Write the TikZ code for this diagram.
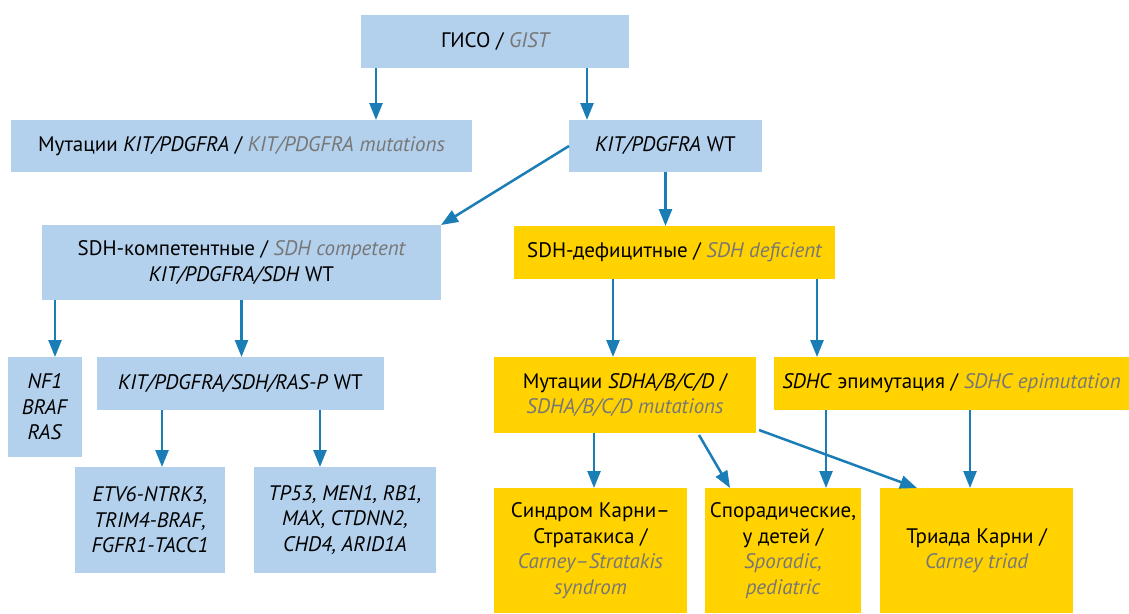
\documentclass[tikz,border=0pt]{standalone}
\usepackage{fontspec}
\setmainfont{PT Sans}
\usetikzlibrary{arrows.meta, positioning}

\definecolor{boxblue}{HTML}{B3D0EC}
\definecolor{boxyellow}{HTML}{FFD200}
\definecolor{arrowblue}{HTML}{1A7DB6}
\definecolor{engray}{HTML}{777777}
\newcommand{\eng}[1]{\textcolor{engray}{\itshape #1}}

\begin{document}
\begin{tikzpicture}[
    x=1pt, y=-1pt,
    box/.style={rectangle, anchor=north west, inner sep=0pt, outer sep=0pt, align=center, font=\fontsize{21}{25.5}\selectfont},
    bluebox/.style={box, fill=boxblue},
    yellowbox/.style={box, fill=boxyellow},
    arrow/.style={-{Triangle[length=17pt, width=13pt]}, line width=2.5pt, arrowblue}
]
\useasboundingbox (0,0) rectangle (1129,613);

% === Top: GIST and first split ===
\node[bluebox, minimum width=268pt, minimum height=53pt] (gist) at (361,15) {ГИСО / \eng{GIST}};
\node[bluebox, minimum width=461pt, minimum height=52pt] (kitmut) at (11,120) {Мутации \textit{KIT/PDGFRA} / \eng{KIT/PDGFRA mutations}};
\node[bluebox, minimum width=193pt, minimum height=52pt] (kitwt) at (569,120) {\textit{KIT/PDGFRA} WT};

% === Left: SDH competent ===
\node[bluebox, minimum width=399pt, minimum height=75pt] (sdhcomp) at (42,225) {SDH-компетентные / \eng{SDH competent}\\ \textit{KIT/PDGFRA/SDH} WT};
\node[bluebox, minimum width=74pt, minimum height=100pt] (nfbox) at (8,357) {\textit{NF1}\\ \textit{BRAF}\\ \textit{RAS}};
\node[bluebox, minimum width=287pt, minimum height=53pt] (raspwt) at (97,357) {\textit{KIT/PDGFRA/SDH/RAS-P} WT};
\node[bluebox, minimum width=150pt, minimum height=106pt] (fusions) at (75,467) {\textit{ETV6-NTRK3,}\\ \textit{TRIM4-BRAF,}\\ \textit{FGFR1-TACC1}};
\node[bluebox, minimum width=182pt, minimum height=106pt] (tpbox) at (254,467) {\textit{TP53, MEN1, RB1,}\\ \textit{MAX, CTDNN2,}\\ \textit{CHD4, ARID1A}};

% === Right: SDH deficient ===
\node[yellowbox, minimum width=321pt, minimum height=53pt] (sdhdef) at (514,226) {SDH-дефицитные / \eng{SDH deficient}};
\node[yellowbox, minimum width=262pt, minimum height=76pt] (sdhmut) at (494,357) {Мутации \textit{SDHA/B/C/D} /\\ \eng{SDHA/B/C/D mutations}};
\node[yellowbox, minimum width=355pt, minimum height=53pt] (epimut) at (774,357) {\textit{SDHC} эпимутация / \eng{SDHC epimutation}};
\node[yellowbox, minimum width=193pt, minimum height=125pt] (carneystrat) at (494,488) {Синдром Карни–\\ Стратакиса /\\ \eng{Carney–Stratakis}\\ \eng{syndrom}};
\node[yellowbox, minimum width=156pt, minimum height=125pt] (sporadic) at (705,488) {Спорадические,\\ у детей /\\ \eng{Sporadic,}\\ \eng{pediatric}};
\node[yellowbox, minimum width=193pt, minimum height=125pt] (triad) at (880,488) {Триада Карни /\\ \eng{Carney triad}};

% === Arrows ===
\draw[arrow] ([xshift=15pt]gist.south west) -- ([xshift=15pt]gist.south west |- kitmut.north);
\draw[arrow] ([xshift=-42pt]gist.south east) -- ([xshift=-42pt]gist.south east |- kitwt.north);
\draw[arrow] (kitwt.west) -- (sdhcomp.north east);
\draw[arrow] (kitwt.south) -- (kitwt.south |- sdhdef.north);

\draw[arrow] ([xshift=13pt]sdhcomp.south west) -- ([xshift=13pt]sdhcomp.south west |- nfbox.north);
\draw[arrow] (sdhcomp.south) -- (sdhcomp.south |- raspwt.north);
\draw[arrow] ([xshift=65pt]raspwt.south west) -- ([xshift=65pt]raspwt.south west |- fusions.north);
\draw[arrow] ([xshift=-64pt]raspwt.south east) -- ([xshift=-64pt]raspwt.south east |- tpbox.north);

\draw[arrow] ([xshift=99pt]sdhdef.south west) -- ([xshift=99pt]sdhdef.south west |- sdhmut.north);
\draw[arrow] ([xshift=-18pt]sdhdef.south east) -- ([xshift=-18pt]sdhdef.south east |- epimut.north);

\draw[arrow] ([xshift=100pt]sdhmut.south west) -- ([xshift=100pt]sdhmut.south west |- carneystrat.north);
\draw[arrow] ([xshift=-57pt, yshift=-2pt]sdhmut.south east) -- ([xshift=25pt]sporadic.north west);
\draw[arrow] ([xshift=3pt, yshift=3pt]sdhmut.south east) -- ([xshift=37pt]triad.north west);
\draw[arrow] ([xshift=52pt]epimut.south west) -- ([xshift=52pt]epimut.south west |- sporadic.north);
\draw[arrow] ([xshift=196pt]epimut.south west) -- ([xshift=196pt]epimut.south west |- triad.north);

\end{tikzpicture}
\end{document}
